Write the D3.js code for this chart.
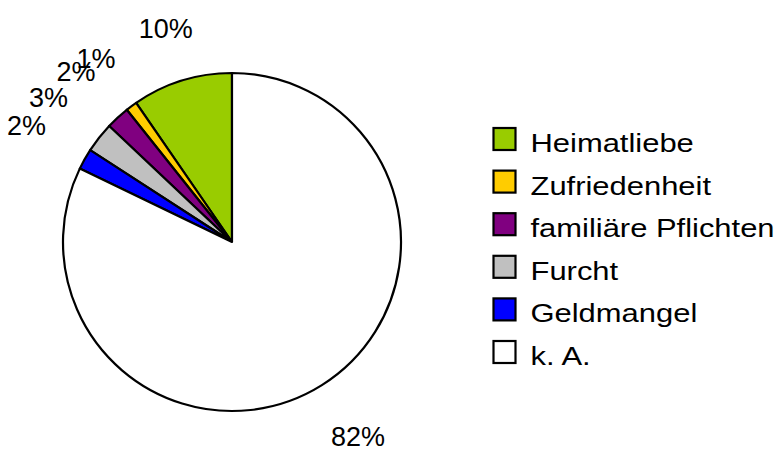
<!DOCTYPE html>
<html>
<head>
<meta charset="utf-8">
<script src="https://cdn.jsdelivr.net/npm/d3@7"></script>
<style>
  body { margin: 0; background: #fff; }
  svg { display: block; font-family: "Liberation Sans", Arial, sans-serif; }
</style>
</head>
<body>
<svg id="chart"></svg>
<script>
// chart data
const categories = ['Heimatliebe', 'Zufriedenheit', 'familiäre Pflichten', 'Furcht', 'Geldmangel', 'k. A.'];
const values = [9.6, 1.1, 2.25, 2.9, 2.0, 82.15];
const labels = ['10%', '1%', '2%', '3%', '2%', '82%'];
const colors = ['#99CC00', '#FFCC00', '#800080', '#C0C0C0', '#0000FF', '#FFFFFF'];

const width = 775,
    height = 450,
    cx = 232,
    cy = 242,
    radius = 169,
    labelBase = 212,
    fontSize = 26,
    pctFontSize = 27,
    legendStretch = 1.19;

const svg = d3.select('#chart')
    .attr('width', width)
    .attr('height', height);

const slices = categories.map((c, i) => ({ name: c, value: values[i], label: labels[i], color: colors[i] }));

// slices run counterclockwise from 12 o'clock
const pie = d3.pie()
    .sort(null)
    .value(d => d.value)
    .startAngle(0)
    .endAngle(-2 * Math.PI);

const arc = d3.arc()
    .innerRadius(0)
    .outerRadius(radius);

const g = svg.append('g')
    .attr('transform', 'translate(' + cx + ',' + cy + ')');

const arcs = pie(slices);

g.selectAll('path.slice')
    .data(arcs)
    .enter()
    .append('path')
    .attr('class', 'slice')
    .attr('fill', d => d.data.color)
    .attr('stroke', '#000')
    .attr('stroke-width', 2.2)
    .attr('stroke-linejoin', 'round')
    .attr('d', arc);

// percent labels outside the pie, pushed out by their width along x;
// a label that would fall off the bottom slides round the circle instead
const maxLabelY = height - cy - 13;

g.selectAll('text.pct')
    .data(arcs)
    .enter()
    .append('text')
    .attr('class', 'pct')
    .attr('text-anchor', 'middle')
    .attr('dominant-baseline', 'central')
    .attr('font-size', pctFontSize + 'px')
    .attr('fill', '#000')
    .text(d => d.data.label)
    .each(function (d) {
        var mid = (d.startAngle + d.endAngle) / 2,
            ux = Math.sin(mid),
            uy = -Math.cos(mid),
            w = this.getComputedTextLength(),
            dist = labelBase + Math.abs(ux) * w * 0.7,
            x = ux * dist,
            y = uy * dist;
        if (y > maxLabelY) {
            y = maxLabelY;
            x = Math.sign(ux) * Math.sqrt(dist * dist - y * y);
        }
        d3.select(this)
            .attr('x', x)
            .attr('y', y);
    });

// legend
const legend = svg.append('g')
    .attr('transform', 'translate(493.5, 139)');

const rowStep = 42.6,
    boxSize = 22;

const rows = legend.selectAll('g.row')
    .data(slices)
    .enter()
    .append('g')
    .attr('class', 'row')
    .attr('transform', (d, i) => 'translate(0,' + i * rowStep + ')');

rows.append('rect')
    .attr('x', 0)
    .attr('y', -boxSize / 2)
    .attr('width', boxSize)
    .attr('height', boxSize)
    .attr('fill', d => d.color)
    .attr('stroke', '#000')
    .attr('stroke-width', 2.2);

rows.append('text')
    .attr('transform', 'translate(37,13) scale(' + legendStretch + ',1)')
    .attr('font-size', fontSize + 'px')
    .attr('fill', '#000')
    .text(d => d.name);
</script>
</body>
</html>
